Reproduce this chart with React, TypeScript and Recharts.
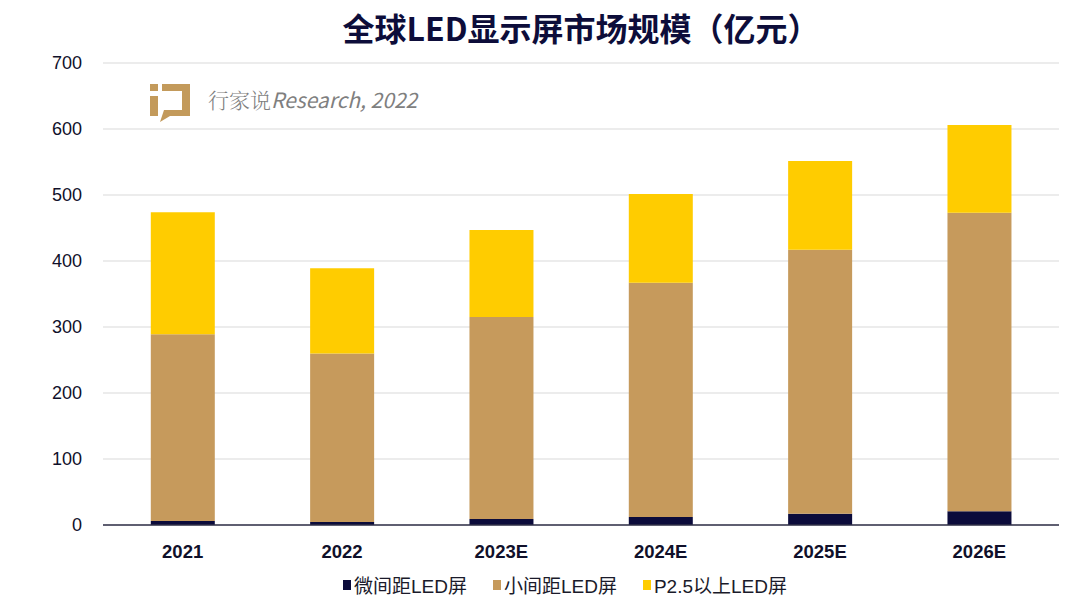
import React from 'react';
import { BarChart, Bar, XAxis, YAxis, CartesianGrid, Legend } from 'recharts';

const categories = ['2021', '2022', '2023E', '2024E', '2025E', '2026E'];
const microPitch = [6, 4.5, 9, 12, 17, 21];
const smallPitch = [283, 255.5, 306, 355, 400, 452];
const aboveP25 = [185, 129, 132, 134.5, 134.5, 133];
const yTicks = [0, 100, 200, 300, 400, 500, 600, 700];

const seriesNames = ['微间距LED屏', '小间距LED屏', 'P2.5以上LED屏'];
const colors = ['#0b0b3b', '#c69a5c', '#ffcc00'];

const data = categories.map((c, i) => ({
  name: c,
  micro: microPitch[i],
  small: smallPitch[i],
  above: aboveP25[i],
}));

const LegendContent = () => (
  <div style={{ display: 'flex', justifyContent: 'center', alignItems: 'center', gap: 26, fontFamily: 'Liberation Sans, Noto Sans CJK SC, sans-serif', fontSize: 19, color: '#1a1a2a', marginLeft: 28 }}>
    {seriesNames.map((n, i) => (
      <div key={n} style={{ display: 'flex', alignItems: 'center' }}>
        <span style={{ display: 'inline-block', width: 8, height: 10, background: colors[i], marginRight: 3 }} />
        <span>{n}</span>
      </div>
    ))}
  </div>
);

export default function App() {
  return (
    <div style={{ position: 'absolute', left: 0, top: 0, width: 1080, height: 606, background: '#fff', fontFamily: 'Liberation Sans, Noto Sans CJK SC, sans-serif' }}>
      <div style={{ position: 'absolute', left: 0, top: 4, width: 1162, textAlign: 'center', fontSize: 32, fontWeight: 'bold', color: '#0d0d3a', fontFamily: 'Noto Sans CJK SC, sans-serif', letterSpacing: 0 }}>
        全球LED显示屏市场规模（亿元）
      </div>
      <BarChart width={1080} height={606} data={data} margin={{ top: 63, right: 21, left: 43, bottom: 5 }} barCategoryGap="30%">
        <CartesianGrid vertical={false} stroke="#d9d9d9" strokeWidth={1.2} />
        <XAxis dataKey="name" tickLine={false} axisLine={{ stroke: '#303048', strokeWidth: 1.5 }} height={46} tick={{ fontSize: 18.5, fontWeight: 'bold', fill: '#10102a' }} tickMargin={14} />
        <YAxis domain={[0, 700]} ticks={yTicks} tickLine={false} axisLine={false} width={60} tick={{ fontSize: 18, fill: '#10102a' }} tickMargin={15} />
        <Legend verticalAlign="bottom" height={30} content={<LegendContent />} />
        <Bar dataKey="micro" name={seriesNames[0]} stackId="a" fill={colors[0]} isAnimationActive={false} />
        <Bar dataKey="small" name={seriesNames[1]} stackId="a" fill={colors[1]} isAnimationActive={false} />
        <Bar dataKey="above" name={seriesNames[2]} stackId="a" fill={colors[2]} isAnimationActive={false} />
      </BarChart>
      <svg style={{ position: 'absolute', left: 148, top: 82 }} width={46} height={40}>
        <rect x={2} y={2} width={8} height={7} fill="#c39a5b" />
        <rect x={2} y={14} width={8} height={20} fill="#c39a5b" />
        <path d="M14 2 H42 V34 H22 L12 40 L16 28 H34 V9 H14 Z" fill="#c39a5b" />
      </svg>
      <div style={{ position: 'absolute', left: 208, top: 84, fontSize: 21, fontStyle: 'italic', color: '#7f7f7f', fontFamily: 'Noto Sans CJK SC, sans-serif' }}>
        <span style={{ fontStyle: 'normal', fontFamily: 'Noto Serif CJK SC, Noto Sans CJK SC, serif', fontWeight: 300 }}>行家说</span>Research, 2022
      </div>
    </div>
  );
}
